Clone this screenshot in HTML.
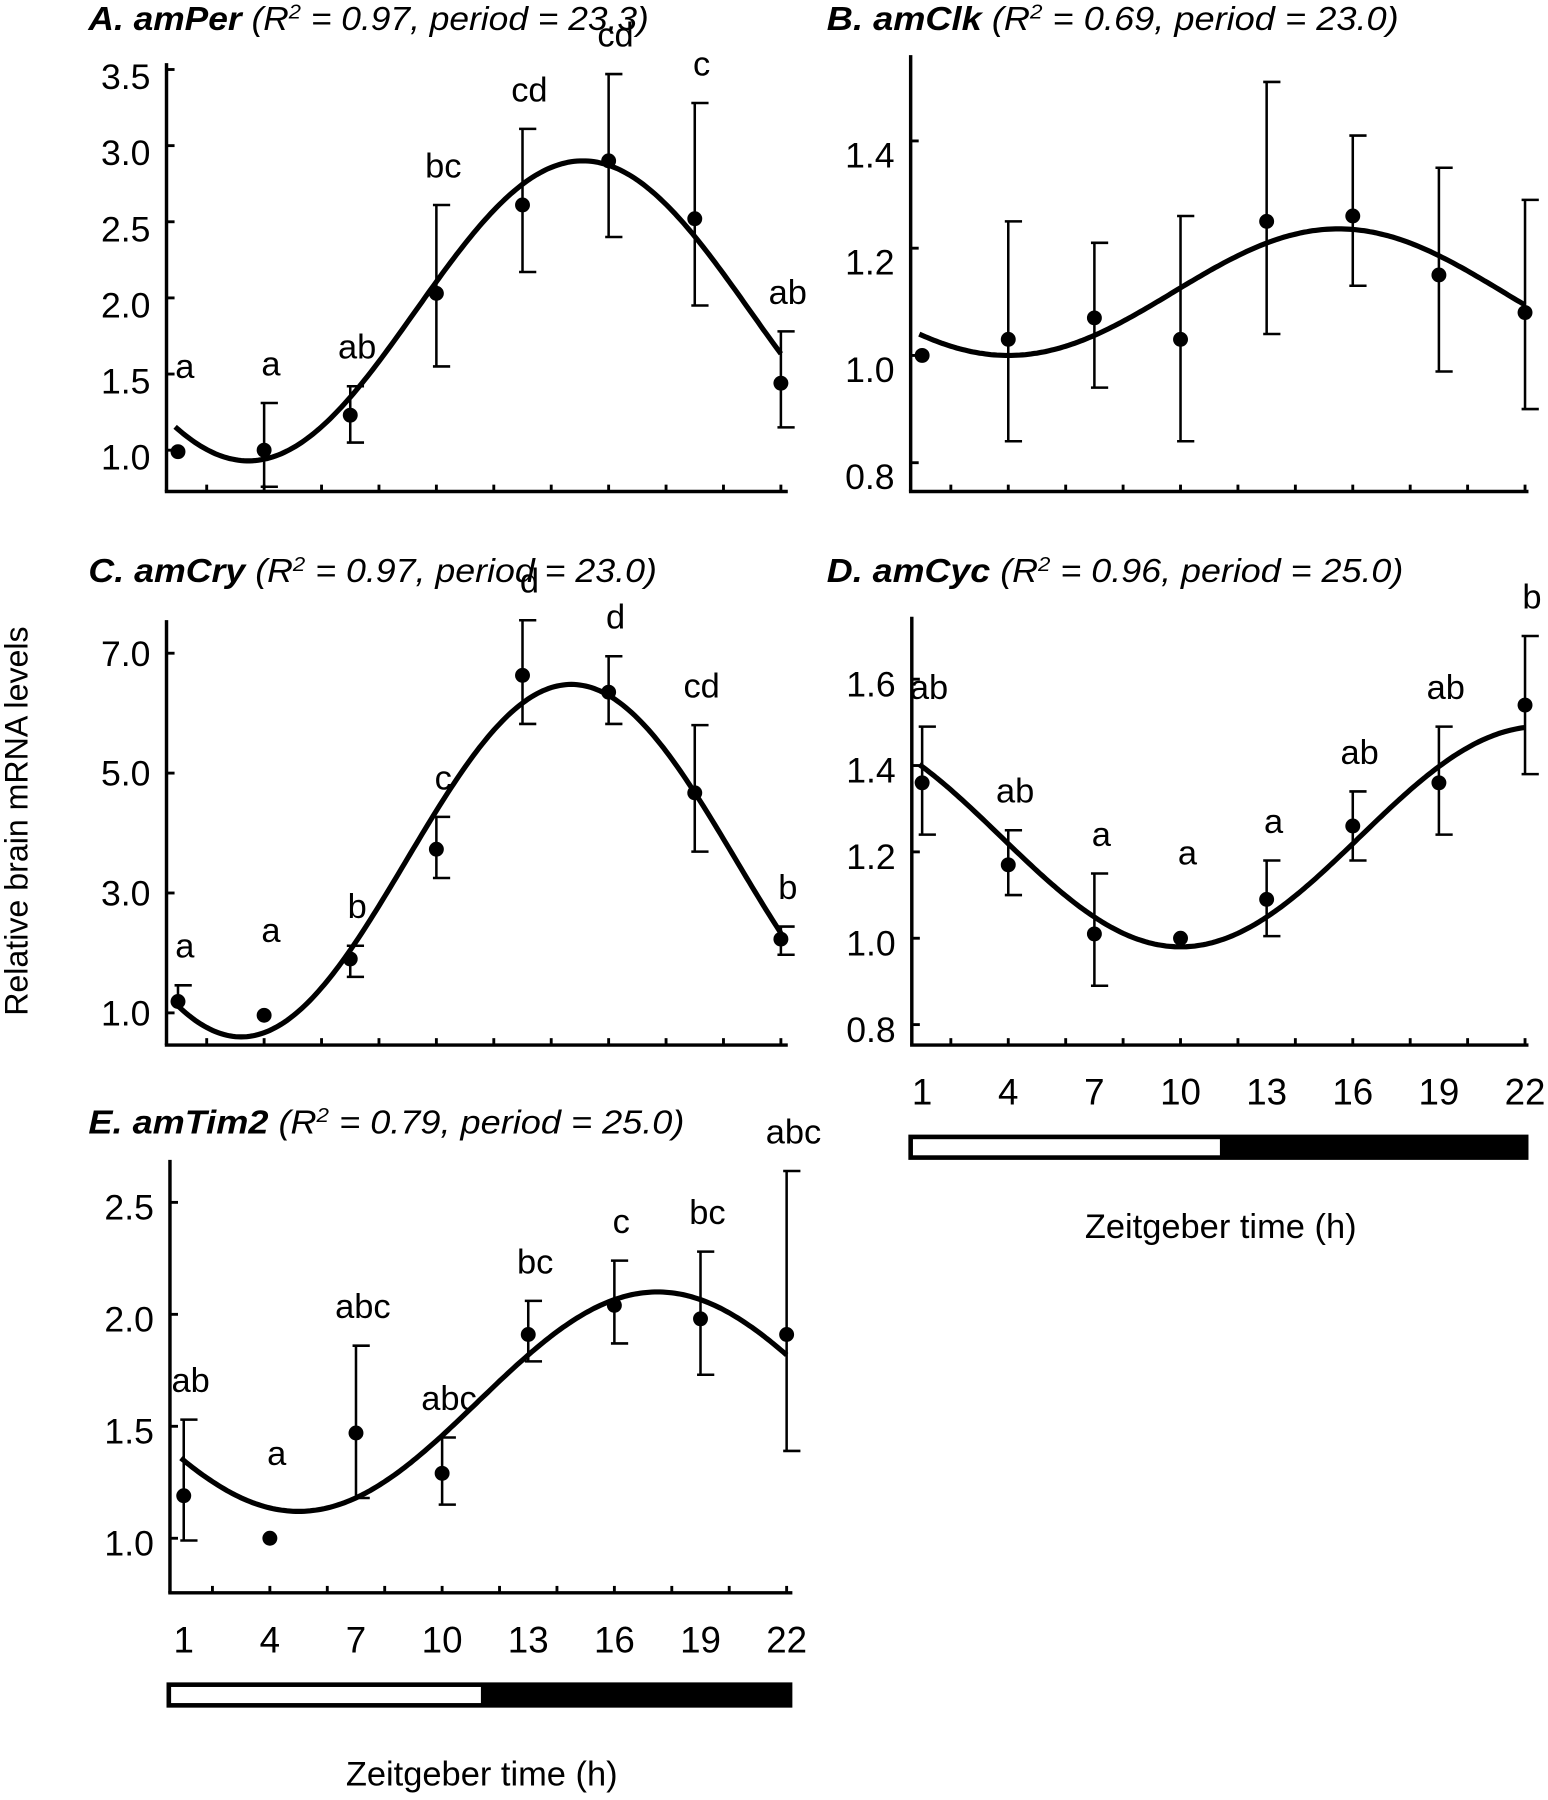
<!DOCTYPE html>
<html><head><meta charset="utf-8">
<style>
html,body{margin:0;padding:0;background:#fff;}
svg{display:block;}
text{font-family:"Liberation Sans",Arial,sans-serif;fill:#000;}
</style></head>
<body>
<svg id="fig" width="1548" height="1800" viewBox="0 0 1348 1567.4" xmlns="http://www.w3.org/2000/svg">
<text x="0" y="0" font-size="28" text-anchor="middle" transform="translate(24,715) rotate(-90)">Relative brain mRNA levels</text>
</svg>
<script>
// shared sampling times
const times = [1, 4, 7, 10, 13, 16, 19, 22];

// Panel A amPer
const aMeans = [0.99, 1.0, 1.23, 2.03, 2.61, 2.90, 2.52, 1.44];
const aUpper = [null, 1.31, 1.42, 2.61, 3.11, 3.47, 3.28, 1.78];
const aLower = [null, 0.76, 1.05, 1.55, 2.17, 2.40, 1.95, 1.15];
const aLetters = ["a", "a", "ab", "bc", "cd", "cd", "c", "ab"];
const aTicks = [1.0, 1.5, 2.0, 2.5, 3.0, 3.5];
const aFit = [1.915, 0.985, 23.3, 15.1]; // mesor, amplitude, period, acrophase

// Panel B amClk
const bMeans = [1.0, 1.03, 1.07, 1.03, 1.25, 1.26, 1.15, 1.08];
const bUpper = [null, 1.25, 1.21, 1.26, 1.51, 1.41, 1.35, 1.29];
const bLower = [null, 0.84, 0.94, 0.84, 1.04, 1.13, 0.97, 0.90];
const bLetters = ["", "", "", "", "", "", "", ""];
const bTicks = [0.8, 1.0, 1.2, 1.4];
const bFit = [1.118, 0.118, 23.0, 15.5];

// Panel C amCry
const cMeans = [1.19, 0.96, 1.90, 3.73, 6.63, 6.35, 4.67, 2.23];
const cUpper = [1.46, null, 2.12, 4.27, 7.55, 6.95, 5.80, 2.44];
const cLower = [null, null, 1.60, 3.25, 5.82, 5.82, 3.69, 1.97];
const cLetters = ["a", "a", "b", "c", "d", "d", "cd", "b"];
const cTicks = [1.0, 3.0, 5.0, 7.0];
const cFit = [3.54, 2.94, 23.0, 14.7];

// Panel D amCyc
const dMeans = [1.36, 1.17, 1.01, 1.0, 1.09, 1.26, 1.36, 1.54];
const dUpper = [1.49, 1.25, 1.15, null, 1.18, 1.34, 1.49, 1.70];
const dLower = [1.24, 1.10, 0.89, null, 1.005, 1.18, 1.24, 1.38];
const dLetters = ["ab", "ab", "a", "a", "a", "ab", "ab", "b"];
const dTicks = [0.8, 1.0, 1.2, 1.4, 1.6];
const dFit = [1.235, 0.255, 25.0, 22.5];

// Panel E amTim2
const eMeans = [1.19, 1.0, 1.47, 1.29, 1.91, 2.04, 1.98, 1.91];
const eUpper = [1.53, null, 1.86, 1.45, 2.06, 2.24, 2.28, 2.64];
const eLower = [0.99, null, 1.18, 1.15, 1.79, 1.87, 1.73, 1.39];
const eLetters = ["ab", "a", "abc", "abc", "bc", "c", "bc", "abc"];
const eTicks = [1.0, 1.5, 2.0, 2.5];
const eFit = [1.61, 0.49, 25.0, 17.5];

const xLabels = ["1", "4", "7", "10", "13", "16", "19", "22"];

const svg = document.getElementById('fig');
const NS = 'http://www.w3.org/2000/svg';
function mk(tag, attrs, parent) {
  const el = document.createElementNS(NS, tag);
  for (const k in attrs) el.setAttribute(k, attrs[k]);
  (parent || svg).appendChild(el);
  return el;
}

function panel(cfg) {
  const g = mk('g', {});
  
  
  const x = t => cfg.x1 + (t - 1) * cfg.dx;
  const y = v => cfg.y0 - (v - cfg.v0) * cfg.ky;
  // title
  const tt = mk('text', {x: cfg.tx, y: cfg.ty, 'font-size': 29, 'font-style': 'italic', textLength: cfg.tw, lengthAdjust: 'spacingAndGlyphs'}, g);
  
  
  const b = mk('tspan', {'font-weight': 'bold'}, tt); b.textContent = cfg.title;
  const s1 = mk('tspan', {}, tt); s1.textContent = ' (R';
  const s2 = mk('tspan', {'font-size': 18, dy: -10}, tt); s2.textContent = '2';
  const s3 = mk('tspan', {dy: 10}, tt); s3.textContent = ' = ' + cfg.r2 + ', period = ' + cfg.fit[2].toFixed(1) + ')';
  // axes
  const ya = mk('line', {x1: cfg.ax, y1: cfg.top, x2: cfg.ax, y2: cfg.bottom, stroke: '#000', 'stroke-width': 3}, g);
  
  
  const xa = mk('line', {x1: cfg.ax - 1.5, y1: cfg.bottom, x2: cfg.right, y2: cfg.bottom, stroke: '#000', 'stroke-width': 3}, g);
  
  
  for (let h = 2; h <= 22; h += 2) {
    mk('line', {x1: x(h), y1: cfg.bottom, x2: x(h), y2: cfg.bottom - 6, stroke: '#000', 'stroke-width': 2.5}, g);
  }
  cfg.ticks.forEach(v => {
    mk('line', {x1: cfg.ax, y1: y(v), x2: cfg.ax + 7, y2: y(v), stroke: '#000', 'stroke-width': 2.5}, g);
    const tl = mk('text', {x: cfg.ax - 14, y: y(v) + cfg.lblOff + 11, 'font-size': 31, 'text-anchor': 'end'}, g);
    
    
    tl.textContent = v.toFixed(1);
  });
  // fit curve
  const f = cfg.fit;
  let d = '';
  for (let t = 0.9; t <= 22.01; t += 0.1) {
    const v = f[0] + f[1] * Math.cos(2 * Math.PI * (t - f[3]) / f[2]);
    d += (d ? 'L' : 'M') + x(t).toFixed(1) + ',' + y(v).toFixed(1);
  }
  const cv = mk('path', {d: d, fill: 'none', stroke: '#000', 'stroke-width': 4.5}, g);
  
  
  // points
  times.forEach((t, i) => {
    const px = x(t);
    if (cfg.upper[i] !== null) {
      const top = y(cfg.upper[i]);
      const bot = cfg.lower[i] !== null ? y(cfg.lower[i]) : y(cfg.means[i]);
      const eb = mk('path', {d: `M${px},${top}L${px},${bot}M${px-3},${top}L${px+12},${top}` + (cfg.lower[i] !== null ? `M${px-3},${bot}L${px+12},${bot}` : ''), stroke: '#000', 'stroke-width': 2.2, fill: 'none'}, g);
      
      
    }
    const dot = mk('circle', {cx: px, cy: y(cfg.means[i]), r: 6.5, fill: '#000'}, g);
    
    
    if (cfg.letters[i]) {
      const ref = cfg.upper[i] !== null ? y(cfg.upper[i]) : y(cfg.means[i]) - 40;
      const lt = mk('text', {x: px + 6, y: ref - 24, 'font-size': 30, 'text-anchor': 'middle'}, g);
      
      
      lt.textContent = cfg.letters[i];
    }
  });
  if (cfg.xlab) {
    times.forEach((t, i) => {
      const xl = mk('text', {x: x(t), y: cfg.bottom + 52, 'font-size': 32, 'text-anchor': 'middle'}, g);
      
      
      xl.textContent = xLabels[i];
    });
    const bx = cfg.ax - 3, bw = cfg.right - bx;
    const lb = mk('rect', {x: bx, y: cfg.bottom + 78, width: bw, height: 22, fill: '#000'}, g);
    
    
    const wb = mk('rect', {x: bx + 4, y: cfg.bottom + 82, width: bw * 0.495, height: 14, fill: '#fff'}, g);
    
    
    const xt = mk('text', {x: bx + bw / 2 + 2, y: cfg.bottom + 168, 'font-size': 30, 'text-anchor': 'middle'}, g);
    
    
    xt.textContent = 'Zeitgeber time (h)';
  }
}

panel({name: 'panel-a-amper', title: 'A. amPer', r2: '0.97', fit: aFit, means: aMeans, upper: aUpper, lower: aLower, letters: aLetters, ticks: aTicks,
  x1: 155, dx: 25, ax: 145, right: 686, top: 55, bottom: 428, v0: 1.0, y0: 392, ky: 132.6, lblOff: 6, tx: 77, ty: 26, tw: 488});
panel({name: 'panel-b-amclk', title: 'B. amClk', r2: '0.69', fit: bFit, means: bMeans, upper: bUpper, lower: bLower, letters: bLetters, ticks: bTicks,
  x1: 803, dx: 25, ax: 793, right: 1331, top: 48, bottom: 428, v0: 1.0, y0: 309.5, ky: 467, lblOff: 12, tx: 720, ty: 26, tw: 498});
panel({name: 'panel-c-amcry', title: 'C. amCry', r2: '0.97', fit: cFit, means: cMeans, upper: cUpper, lower: cLower, letters: cLetters, ticks: cTicks,
  x1: 155, dx: 25, ax: 145, right: 686, top: 540, bottom: 910, v0: 1.0, y0: 882, ky: 52.2, lblOff: 0, tx: 77, ty: 507, tw: 495});
panel({name: 'panel-d-amcyc', title: 'D. amCyc', r2: '0.96', fit: dFit, means: dMeans, upper: dUpper, lower: dLower, letters: dLetters, ticks: dTicks,
  x1: 803, dx: 25, ax: 794, right: 1331, top: 537, bottom: 910, v0: 1.0, y0: 817, ky: 376, lblOff: 4, tx: 720, ty: 507, tw: 502, xlab: true});
panel({name: 'panel-e-amtim2', title: 'E. amTim2', r2: '0.79', fit: eFit, means: eMeans, upper: eUpper, lower: eLower, letters: eLetters, ticks: eTicks,
  x1: 160, dx: 25, ax: 148, right: 690, top: 1010, bottom: 1387, v0: 1.0, y0: 1339.5, ky: 195, lblOff: 4, tx: 77, ty: 987, tw: 519, xlab: true});
</script>
</body></html>
